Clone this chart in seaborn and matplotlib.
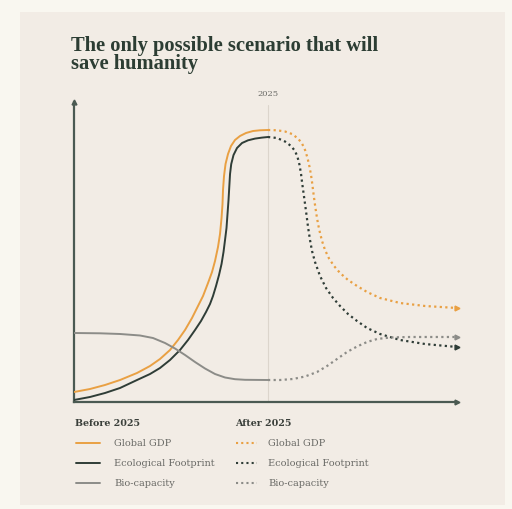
import matplotlib
matplotlib.use("Agg")
import matplotlib.pyplot as plt
from matplotlib.lines import Line2D
from matplotlib.patches import Rectangle
import seaborn as sns
import pandas as pd

# ---- data (x = time units, 2025 at 50, y = index 0-100) ----
gdp_before_x = [0, 4.12, 7.99, 11.86, 16.24, 19.59, 22.16, 24.74, 26.80, 28.61, 30.41, 31.96, 33.25,
                34.54, 35.57, 36.34, 37.11, 37.63, 38.02, 38.27, 38.40, 38.66, 39.05, 39.69, 40.46,
                41.49, 42.78, 44.33, 46.13, 47.94, 50.0]
gdp_before_y = [3.33, 4.33, 5.67, 7.33, 9.67, 12.0, 14.33, 17.33, 20.67, 24.0, 28.0, 32.0, 35.33,
                39.67, 43.33, 47.0, 51.67, 56.0, 61.33, 66.0, 70.67, 75.33, 79.33, 82.67, 85.33,
                87.33, 88.67, 89.67, 90.33, 90.57, 90.67]
eco_before_x = [0, 4.12, 7.99, 11.86, 16.24, 19.59, 22.16, 24.74, 27.32, 29.38, 31.19, 32.73, 34.02,
                35.05, 35.82, 36.60, 37.37, 38.02, 38.53, 38.92, 39.30, 39.56, 39.82, 40.03, 40.21,
                40.52, 41.11, 42.01, 43.30, 44.85, 46.65, 48.45, 50.0]
eco_before_y = [0.67, 1.67, 3.0, 4.67, 7.33, 9.33, 11.33, 14.0, 17.33, 20.67, 24.0, 27.0, 30.0,
                32.67, 35.33, 38.67, 42.33, 46.0, 50.0, 54.0, 58.0, 62.67, 67.33, 72.0, 76.0,
                79.33, 82.33, 84.67, 86.33, 87.23, 87.8, 88.13, 88.33]
bio_before_x = [0, 6.70, 11.86, 17.01, 20.36, 23.45, 26.03, 28.61, 31.19, 33.76, 36.34, 38.92, 41.49,
                44.07, 50.0]
bio_before_y = [23.0, 22.9, 22.67, 22.17, 21.33, 19.67, 17.83, 15.67, 13.33, 11.17, 9.33, 8.17, 7.6,
                7.4, 7.33]

gdp_after_x = [50.0, 52.32, 54.38, 56.19, 57.73, 58.76, 59.54, 60.18, 60.70, 61.08, 61.34, 61.73,
               62.11, 62.5, 62.89, 63.4, 63.92, 64.69, 65.72, 67.01, 68.56, 70.62, 72.94, 75.52,
               78.87, 84.02, 90.46, 98.71]
gdp_after_y = [90.67, 90.57, 90.17, 89.33, 87.83, 86.17, 84.0, 81.33, 78.33, 75.67, 73.33, 69.33,
               65.67, 62.33, 59.33, 56.33, 53.67, 50.67, 47.83, 45.33, 43.0, 40.67, 38.67, 36.67,
               34.67, 33.0, 32.0, 31.33]
eco_after_x = [50.0, 52.32, 54.38, 55.93, 56.96, 57.6, 58.12, 58.51, 58.76, 59.15, 59.54, 59.92,
               60.31, 60.82, 61.34, 62.11, 63.4, 64.95, 66.75, 68.56, 70.62, 72.94, 75.52, 78.87,
               84.02, 90.46, 98.71]
eco_after_y = [88.33, 88.0, 86.83, 85.33, 83.67, 81.67, 79.0, 76.0, 73.33, 69.67, 66.0, 62.33,
               58.33, 54.0, 50.33, 46.67, 42.0, 38.0, 34.67, 32.0, 29.33, 27.0, 24.67, 22.67,
               20.67, 19.33, 18.33]
bio_after_x = [50.0, 53.09, 56.44, 59.54, 62.63, 65.21, 67.78, 70.36, 72.94, 75.52, 78.09, 81.44,
               86.6, 98.71]
bio_after_y = [7.33, 7.33, 7.67, 8.5, 10.0, 12.0, 14.33, 16.67, 18.5, 20.0, 21.0, 21.5, 21.67, 21.67]

series_names = ["Global GDP", "Ecological Footprint", "Bio-capacity"]
legend_titles = ["Before 2025", "After 2025"]
year_label = "2025"
year_x = 50.0
title = "The only possible scenario that will\nsave humanity"

# ---- style ----
ORANGE = "#e9a043"
DARK = "#2f3d37"
GREY = "#8c8c88"
AXIS = "#4b5a52"
PANEL = "#f2ece5"
OUTER = "#f9f7f0"
TEXTG = "#6a6a66"
colors = [ORANGE, DARK, GREY]

sns.set_theme(style="white")
plt.rcParams["font.family"] = ["DejaVu Serif"]

W, H = 512, 509
fig = plt.figure(figsize=(W / 100, H / 100), dpi=100)
fig.patch.set_facecolor(OUTER)
fig.add_artist(Rectangle((20 / W, 4 / H), 485 / W, 493 / H, transform=fig.transFigure,
                         facecolor=PANEL, edgecolor="none", zorder=-10))

ax = fig.add_axes([74 / W, (H - 402) / H, 383 / W, 300 / H])
ax.set_facecolor("none")
ax.set_xlim(0, 98.7)
ax.set_ylim(0, 100)

def df(x, y):
    return pd.DataFrame({"x": x, "y": y})

before = [(gdp_before_x, gdp_before_y), (eco_before_x, eco_before_y), (bio_before_x, bio_before_y)]
after = [(gdp_after_x, gdp_after_y), (eco_after_x, eco_after_y), (bio_after_x, bio_after_y)]
dotted = (0, (1, 1.5))

for (x, y), c in zip(before, colors):
    sns.lineplot(data=df(x, y), x="x", y="y", ax=ax, color=c, linewidth=1.4,
                 sort=False, estimator=None, zorder=3)
n_before = len(ax.lines)
for line in ax.lines:
    line.set_solid_joinstyle("round")
for (x, y), c in zip(after, colors):
    sns.lineplot(data=df(x, y), x="x", y="y", ax=ax, color=c, linewidth=1.6,
                 linestyle=dotted, sort=False, estimator=None, zorder=3)
    ax.plot([x[-1]], [y[-1]], marker=">", color=c, markersize=3.5, clip_on=False, zorder=4)

ax.axvline(year_x, ymin=0, ymax=0.99, color="#dcd5cc", linewidth=0.8, zorder=1)
ax.text(year_x, 101.5, year_label, ha="center", va="bottom", fontsize=6, color=TEXTG)

for s in ["top", "right"]:
    ax.spines[s].set_visible(False)
for s in ["left", "bottom"]:
    ax.spines[s].set_color(AXIS)
    ax.spines[s].set_linewidth(1.6)
ax.plot([0], [1], marker="^", transform=ax.transAxes, color=AXIS, markersize=3.5, clip_on=False)
ax.plot([1], [0], marker=">", transform=ax.transAxes, color=AXIS, markersize=3.5, clip_on=False)
ax.set_xticks([])
ax.set_yticks([])
ax.set_xlabel("")
ax.set_ylabel("")

fig.text(71 / W, 1 - 36 / H, title, ha="left", va="top", fontsize=14.8, fontweight="bold",
         color="#2c3d33", linespacing=0.88, family=["Liberation Serif", "DejaVu Serif"])

# ---- legend ----
for lx, t in zip([75, 235], legend_titles):
    fig.text(lx / W, 1 - 424 / H, t, fontsize=6.8, fontweight="bold", color="#3a3f3a",
             va="center", ha="left")
rows = [443, 463, 483]
for name, c, ry in zip(series_names, colors, rows):
    yy = 1 - ry / H
    fig.add_artist(Line2D([76 / W, 100 / W], [yy, yy], color=c, linewidth=1.4, transform=fig.transFigure))
    fig.text(114 / W, yy, name, fontsize=7, color=TEXTG, va="center", ha="left")
    fig.add_artist(Line2D([236 / W, 257 / W], [yy, yy], color=c, linewidth=1.5, linestyle=dotted,
                          transform=fig.transFigure))
    fig.text(268 / W, yy, name, fontsize=7, color=TEXTG, va="center", ha="left")

fig.savefig("out.png", dpi=100, facecolor=fig.get_facecolor())
